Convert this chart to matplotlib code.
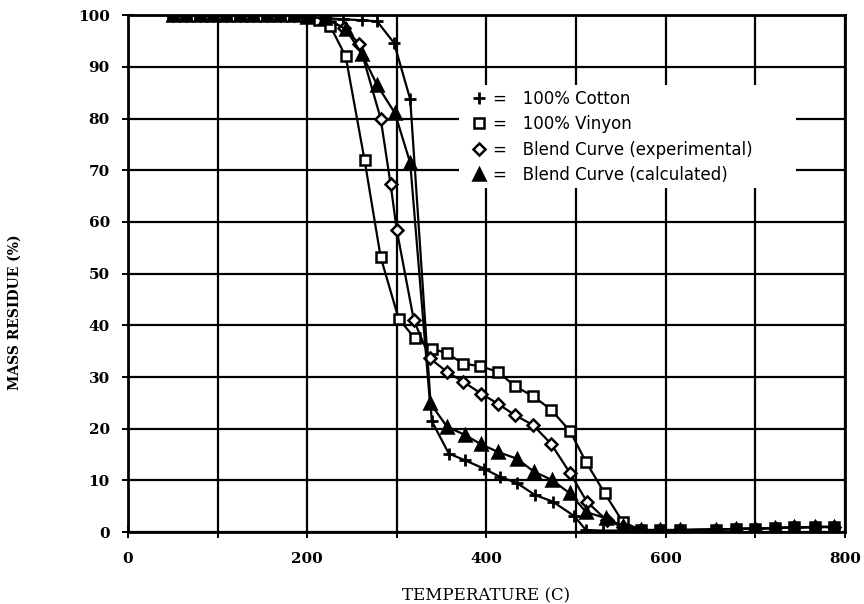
import matplotlib.pyplot as plt
from matplotlib.ticker import MultipleLocator
from matplotlib.patches import Rectangle

# temperature (C) and mass residue (%)
top_t = [50, 65, 80, 95, 110, 125, 140, 155, 170, 185, 200]
top_m = [100, 100, 100, 100, 100, 100, 100, 100, 100, 100, 99.6]
tail_t = [572, 594, 616, 656, 678, 700, 722, 743, 766, 788]
tail_m = [0.4, 0.4, 0.4, 0.5, 0.6, 0.7, 0.8, 0.9, 1.0, 1.0]

cotton_t = top_t + [220, 240, 261, 278, 297, 315, 339, 358, 376, 397, 415,
                    434, 454, 474, 498, 511, 530, 552] + tail_t
cotton_m = top_m + [99.4, 99.2, 99.0, 98.8, 94.6, 83.7, 21.5, 15.2, 13.9,
                    12.3, 10.7, 9.5, 7.2, 5.9, 3.1, 0.4, 0.3, 0.3] + tail_m

vinyon_t = top_t + [213, 226, 243, 264, 282, 302, 320, 339, 356, 374, 393,
                    413, 432, 452, 472, 493, 511, 532, 552] + tail_t
vinyon_m = top_m + [99.0, 97.8, 92.0, 72.0, 53.2, 41.3, 37.5, 35.5, 34.6,
                    32.6, 32.1, 31.0, 28.2, 26.3, 23.7, 19.6, 13.6, 7.5,
                    2.0] + tail_m

exp_t = top_t + [220, 241, 258, 282, 293, 300, 319, 337, 356, 374, 394, 413,
                 432, 452, 472, 493, 512, 534, 552] + tail_t
exp_m = top_m + [99.4, 97.5, 94.5, 80.0, 67.4, 58.4, 41.0, 33.6, 31.0, 29.1,
                 26.8, 24.8, 22.6, 20.7, 17.1, 11.5, 5.9, 2.3, 1.0] + tail_m

calc_t = top_t + [220, 243, 261, 278, 298, 315, 337, 356, 376, 394, 413,
                  434, 453, 473, 493, 511, 533, 552] + tail_t
calc_m = top_m + [99.4, 97.3, 92.5, 86.5, 81.0, 71.4, 25.0, 20.4, 18.8,
                  17.0, 15.5, 14.2, 11.7, 10.1, 7.5, 3.9, 2.7, 1.2] + tail_m

x_ticks = [0, 200, 400, 600, 800]
y_ticks = list(range(0, 101, 10))

fig = plt.figure(figsize=(8.64, 6.04), dpi=100)
ax = fig.add_axes([0.148, 0.119, 0.83, 0.856])

ax.plot(cotton_t, cotton_m, color='black', lw=1.6, marker='+', ms=9, mew=2,
        label='=   100% Cotton', zorder=3)
ax.plot(vinyon_t, vinyon_m, color='black', lw=1.6, marker='s', ms=7, mew=1.8,
        mfc='white', label='=   100% Vinyon', zorder=3)
ax.plot(exp_t, exp_m, color='black', lw=1.6, marker='D', ms=6.5, mew=1.8,
        mfc='white', label='=   Blend Curve (experimental)', zorder=3)
ax.plot(calc_t, calc_m, color='black', lw=1.6, marker='^', ms=8, mew=1.8,
        mfc='black', label='=   Blend Curve (calculated)', zorder=3)

ax.set_xlim(0, 800)
ax.set_ylim(0, 100)
ax.xaxis.set_major_locator(MultipleLocator(200))
ax.xaxis.set_minor_locator(MultipleLocator(100))
ax.set_yticks(y_ticks)
ax.set_xticks(x_ticks)
ax.grid(True, which='both', color='black', lw=1.6)
ax.tick_params(axis='both', which='both', direction='inout', length=8,
               width=1.4, colors='black')
ax.tick_params(axis='x', pad=10)
ax.tick_params(axis='y', pad=9)
for s in ax.spines.values():
    s.set_linewidth(2)

for lab in ax.get_xticklabels() + ax.get_yticklabels():
    lab.set_fontfamily('DejaVu Serif')
    lab.set_fontweight('bold')
    lab.set_fontsize(11)

ax.set_xlabel('TEMPERATURE (C)', family='DejaVu Serif', fontsize=12,
              labelpad=16)
ax.set_ylabel('MASS RESIDUE (%)', family='DejaVu Serif', fontweight='bold',
              fontsize=10)
ax.yaxis.set_label_coords(-0.148, 0.425)

# white patch behind the legend hides the grid, as in the scan
ax.add_patch(Rectangle((0.462, 0.665), 0.47, 0.2, transform=ax.transAxes,
                       facecolor='white', edgecolor='none', zorder=2))

leg = ax.legend(loc='upper left', bbox_to_anchor=(0.46, 0.885), frameon=False,
                handlelength=0.8, handletextpad=0.4, labelspacing=0.45,
                prop={'family': 'DejaVu Sans', 'size': 12})
for h in leg.legend_handles:
    h.set_linestyle('none')
leg.set_zorder(5)

plt.savefig('out.png', dpi=100)
